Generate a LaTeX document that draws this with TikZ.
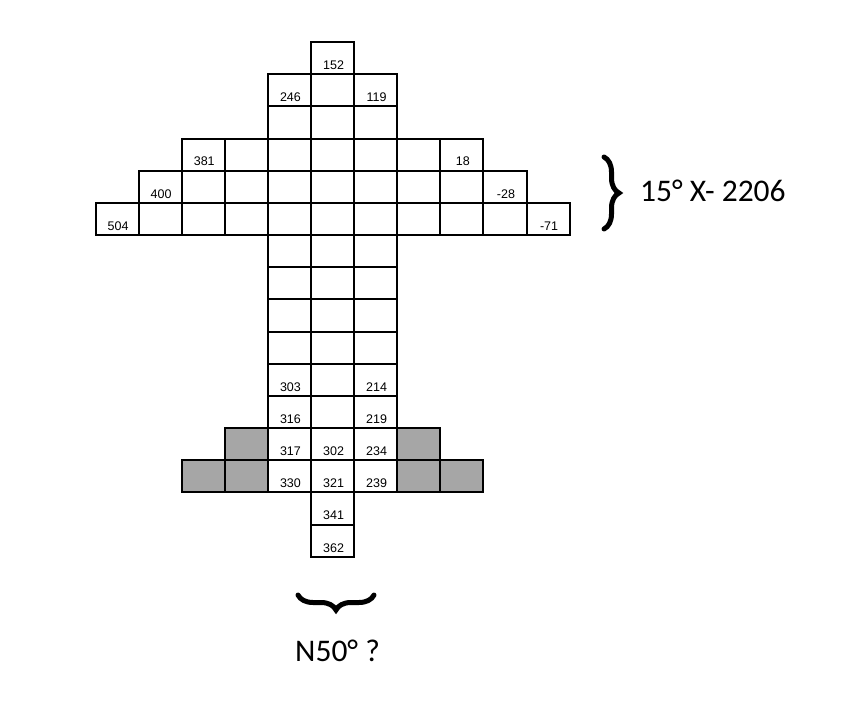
\documentclass[tikz,border=0pt]{standalone}
\usepackage{fontspec}
\setmainfont{Carlito}
\newfontfamily\numfont{Liberation Sans}
\usetikzlibrary{positioning,calc,decorations.pathreplacing}

\tikzset{
  cell/.style={draw,line width=2pt,minimum width=43.1pt,minimum height=32.17pt,inner sep=0,outer sep=0},
  shaded/.style={cell,fill=black!35},
  num/.style={font=\numfont\fontsize{12.5}{12.5}\selectfont,anchor=base,inner sep=0,yshift=4.7pt,xshift=1pt},
  note/.style={font=\fontsize{31.5}{31.5}\selectfont,anchor=base west,inner sep=0},
  bigbrace/.style={decorate,decoration={brace,amplitude=#1},line width=5pt,line cap=round}
}

\begin{document}
\begin{tikzpicture}[x=1pt,y=-1pt]
\useasboundingbox (0,0) rectangle (850,706);

\begin{scope}[shift={(95.5,42)},x=43.1pt,y=-32.17pt]
  % white cells, row/first column/last column
  \foreach \r/\a/\b in {0/5/5, 1/4/6, 2/4/6, 3/2/8, 4/1/9, 5/0/10,
                        6/4/6, 7/4/6, 8/4/6, 9/4/6, 10/4/6, 11/4/6,
                        12/4/6, 13/4/6, 14/5/5, 15/5/5}
    \foreach \c in {\a,...,\b}
      \node[cell] (c-\r-\c) at (\c+0.5,\r+0.5) {};

  % grey cells
  \foreach \r/\c in {12/3, 12/7, 13/2, 13/3, 13/7, 13/8}
    \node[shaded] (g-\r-\c) at (\c+0.5,\r+0.5) {};

  % values
  \foreach \r/\c/\v in {0/5/152, 1/4/246, 1/6/119, 3/2/381, 3/8/18,
                        4/1/400, 4/9/-28, 5/0/504, 5/10/-71,
                        10/4/303, 10/6/214, 11/4/316, 11/6/219,
                        12/4/317, 12/5/302, 12/6/234,
                        13/4/330, 13/5/321, 13/6/239, 14/5/341, 15/5/362}
    \node[num] (n-\r-\c) at (c-\r-\c.south) {\v};
\end{scope}

% braces and notes
\draw[bigbrace=15pt] (604,157) -- (604,229);
\node[note] (side) at (640,201.7) {15° X- 2206};

\draw[bigbrace=15pt] (374,595) -- (298,595);
\node[note] (foot) at (295,661.7) {N50° ?};

\end{tikzpicture}
\end{document}
